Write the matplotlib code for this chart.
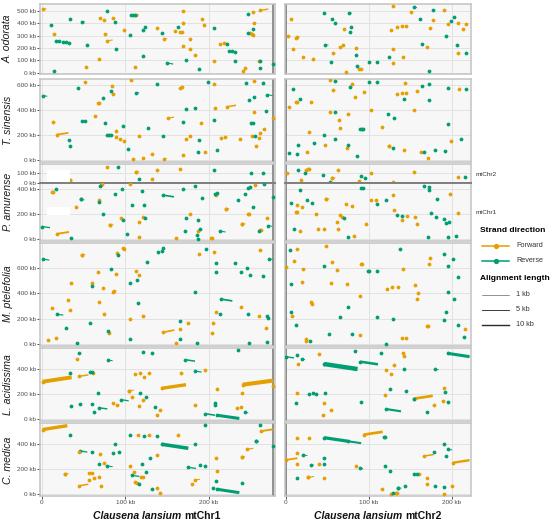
import matplotlib
matplotlib.use('Agg')
import matplotlib.pyplot as plt
from matplotlib.patches import Rectangle
from matplotlib.lines import Line2D

plt.rcParams['font.family'] = ['Liberation Sans', 'DejaVu Sans']

# ---- data (kb). fwd/rev = alignment start points, seg = (x0, y0, x1, y1)
odo1_fwd = [(14.8,313),(53,46),(68,108),(69.6,446),(74,427),(75.6,311),(84.8,443),(98.4,349),(111.6,46),(138.4,362),
            (159,338),(165.6,327),(168,330),(169,497),(169,405),(169.6,216),(177.6,276),(178,192),(183,146),(192,432),
            (194.4,386),(206.8,92),(214,232),(218.4,238),(250,324),(252,313),(253.6,305),(254.4,403),(252.8,489),
            (260,97),(241.6,11),(243,38)]
odo1_rev = [(10.4,386),(14.8,16),(17,257),(20,254),(25,251),(29,249),(32,240),(34,435),(54,227),(77.6,500),(87.6,413),
            (88.8,192),(106,308),(106.8,467),(108.8,467),(111.6,467),(121.6,349),(123,367),(121.6,135),(144.4,319),
            (163,367),(172.8,100),(188,32),(206.8,362),(221.6,230),(224.4,178),(228.4,173),(231.6,170),(231.6,92),
            (246.8,473),(246.8,324),(253.6,357),(261.6,97),(262,41),(277.6,73)]
odo1_seg = [(0.8,513,5.6,517),(47.6,413,51.6,409),(78.4,259,84.8,265),(112.8,466,116,469),(146.8,273,150.4,276),
            (150.4,78,157.6,70),(262,506,271.6,515)]

odo2_fwd = [(129.4,538),(151.6,495),(191,508),(6.5,435),(177.8,430),(207.7,405),(217,397),(196,395),(213.7,351),
            (134.3,370),(140,376),(145.6,378),(126.6,343),(70.6,354),(173.8,359),(3.2,295),(12.5,284),(14,286),
            (69.4,227),(65,205),(84.3,197),(171,205),(8.9,189),(129,189),(56.5,157),(208,159),(20.6,127),(33.5,108),
            (141,127),(130,76),(88,32),(90.7,30),(73,8)]
odo2_rev = [(46.8,481),(177.4,508),(55.6,435),(59.7,403),(161.7,438),(203,449),(198.8,422),(79,368),(77,330),
            (193,295),(164.5,230),(206.9,227),(84.3,143),(217.7,162),(125,124),(55.2,89),(101,86),(110,86),(86,51),
            (172.6,16)]
odo2_seg = [(154.4,532,158.4,528),(75.8,486,79.8,482),(48,227,51.6,223)]

sin1_fwd = [(51.6,618),(13.6,300),(63.2,347),(67.2,456),(68.8,458),(84.4,592),(85.6,523),(88.4,233),(88.8,186),
            (93.6,164),(98.4,151),(106.8,634),(116,194),(108.8,5),(121.6,13),(132.4,50),(165.6,576),(168,578),(169,40),
            (173,170),(177,188),(190.8,297),(195.6,64),(206.8,602),(208,416),(214.4,175),(219.6,180),(237.6,164),
            (254.8,626),(254.4,379),(251.6,191),(260.8,172),(262,218),(266,249),(256.8,111),(277.6,334)]
sin1_rev = [(43,576),(32.8,156),(34,109),(48,310),(51.6,308),(73.6,491),(82.8,549),(75.6,294),(78.4,202),(80.4,199),
            (82.4,196),(97.6,268),(103.6,85),(126.8,257),(138.4,605),(145.6,188),(169.6,300),(172.4,406),(183.2,414),
            (188.8,159),(186.8,64),(198.8,621),(206,316),(210.4,80),(245.2,610),(250.4,297),(253.6,297),(248.8,475),
            (254.4,499),(264.8,613),(255.2,188),(268.4,390)]
sin1_seg = [(0.8,514,6.4,508),(17.6,202,31.6,216),(112.8,538,116.8,534),(146.8,11,150,14),(150.8,334,158.4,342),
            (221.6,424,232.8,436),(270.4,520,276.8,514)]

sin2_fwd = [(54,634),(144.4,615),(56.5,557),(79.4,602),(94.8,544),(208.5,562),(134,523),(140,533),(145,533),
            (158.9,552),(12.5,464),(14,464),(31,459),(83.9,501),(4.4,422),(54,385),(75.4,369),(102.4,398),(154.4,400),
            (64.5,321),(65,255),(116.5,263),(27.8,225),(198.8,149),(47.6,119),(73.4,93),(124,114),(125,114),
            (142.3,80),(163.7,66),(26.2,66),(171.8,13)]
sin2_rev = [(60,631),(101,621),(110,621),(173,607),(164.5,589),(8.9,565),(77,578),(195.6,576),(217.7,562),(17,485),
            (143,488),(173,480),(60,382),(123,369),(130.6,332),(90,247),(92,247),(93.5,247),(196,289),(46.8,196),
            (58.9,167),(211.3,164),(33.9,133),(14.5,119),(74.6,119),(129,95),(180.6,82),(166.5,64),(192.7,74),
            (4.4,56),(13.3,48),(85.5,34)]
sin2_seg = []

amu2c1_fwd = [(77.6,155),(112.8,106),(138.4,132),(165.6,135),(131.6,39),(33.6,26),(33,22)]
amu2c1_rev = [(91.2,161),(206.8,129),(250.8,94),(265.6,94),(116.4,32)]
amu2c1_seg = [(112.8,106,116.8,110)]

amu2c2_fwd = [(1.2,97),(24.6,132),(26.6,139),(28.6,139),(18.5,23),(63,126),(56,45),(102.4,100),(89,13),(154.4,103),
              (129,3),(208,55)]
amu2c2_rev = [(14.5,129),(23.8,100),(44.4,81),(53.6,6),(90.7,71),(96,45),(216.5,58)]
amu2c2_seg = [(56,45,60,49)]

amu1c1_fwd = [(12.4,373),(13.6,376),(70.4,429),(71.6,437),(68,312),(41,253),(106,440),(177.6,203),(81.6,112),(95,165),
              (116.8,133),(120.8,176),(116.4,19),(160.8,11),(187.6,69),(202.4,11),(204,9),(208.4,352),(221,240),
              (247.2,197),(248.8,203),(256,427),(240.4,120),(269.6,165),(262.8,77),(261.6,72)]
amu1c1_rev = [(16.8,400),(69.6,421),(47,315),(68,293),(88,355),(96,400),(119.6,381),(108.4,269),(122,275),(169,400),
              (183,424),(192.4,325),(172.8,168),(187.6,152),(73.6,200),(97.6,155),(124,171),(34.4,13),(101.6,40),
              (172,67),(186.4,35),(187,5),(189.6,83),(207.6,360),(210.4,365),(234.8,312),(244,360),(246.8,408),
              (250,413),(253.6,259),(266.8,435),(260.4,67),(277.6,336)]
amu1c1_seg = [(47,315,51,311),(145.6,349,158.4,336),(81.6,112,85.6,116),(0.4,101,9.6,92),(17.6,43,32.4,58),
              (214,64,220.4,58),(221,240,224.6,244),(240.4,120,244,124),(270.8,109,276.4,103)]

amu1c2_fwd = [(14.1,272),(20.2,256),(12.5,213),(13.3,216),(36.3,200),(48.8,317),(73,283),(80.2,261),(65.5,192),
              (67.5,179),(61.3,136),(63,83),(17.7,67),(39.5,83),(46.8,83),(82.3,29),(96.8,120),(102.4,309),(109.3,309),
              (129,349),(130.2,235),(140.7,155),(146.4,181),(156,176),(158.9,120),(198.4,357),(207.7,205)]
amu1c2_rev = [(16.9,392),(6.9,285),(25.8,312),(31.5,291),(69.8,171),(9.7,80),(75,19),(91,408),(93,403),(110,280),
              (121,309),(134.3,192),(140,184),(167.3,424),(173,413),(173,389),(182.3,315),(175.4,211),(181.5,176),
              (191,157),(193.5,128),(196.4,136),(172.2,19),(195.6,19),(205,27)]
amu1c2_seg = [(48.8,317,52.8,321)]

pte1_fwd = [(48,707),(89.6,723),(97.2,758),(98.4,753),(188,713),(206.8,731),(261.6,744),(67.6,567),(88.8,556),
            (112.8,580),(116.8,546),(34.8,487),(60.4,485),(73.6,445),(85.6,408),(86.8,418),(31.2,347),(68.8,334),
            (12,286),(34,265),(238.8,291),(208.8,254),(74.8,238),(121.6,223),(105.6,201),(260.8,225),(175.6,162),
            (205.6,162),(80.8,85),(165.6,117),(268.4,125),(204,90),(7.6,27),(16.8,48),(160.8,8)]
pte1_rev = [(91.6,705),(138.8,731),(144.4,739),(145.6,763),(196.4,750),(83.2,596),(113.6,509),(105.6,487),
            (125.6,646),(208.8,644),(208.8,567),(232,638),(246,604),(238.4,570),(249.6,543),(265.6,538),(60,458),
            (115.6,323),(183.6,411),(214,241),(246.8,241),(269.6,225),(271,209),(166,180),(57.6,162),(29.2,127),
            (79.2,106),(105.6,37),(165.6,42),(41.6,8),(186.4,8),(248.8,10),(269.6,12)]
pte1_seg = [(0.8,673,8.8,665),(48,707,52,711),(272,675,277,670),(214.8,355,228.4,341),(17.6,236,25.6,228),
            (145.6,92,158.8,110)]

pte2_fwd = [(48.8,773),(13.3,752),(174,683),(10.5,654),(0.4,612),(55.6,649),(20.6,593),(61.3,583),(90.7,630),
            (92.5,632),(141,593),(173.4,636),(20.2,493),(55.2,487),(73.4,479),(121.8,432),(128,450),(135,448),
            (156.5,464),(159.3,405),(158.9,360),(89.1,381),(31,334),(32.3,315),(7.3,220),(170.6,140),(171.8,143),
            (215.7,122),(90,69),(140,48),(145.6,48),(24.6,37),(24.2,23)]
pte2_rev = [(4.8,742),(137.9,750),(191,713),(201.6,670),(46.8,617),(99.2,580),(101,578),(110,575),(195.6,620),
            (208,527),(6.9,472),(196,413),(202.4,358),(75,289),(6,254),(193,254),(65.3,215),(110,212),(129.4,201),
            (191,191),(12.1,146),(208,148),(52,79),(79.4,77),(215.3,56),(29.8,20),(121.4,2)]
pte2_seg = []

aci1_fwd = [(41.6,477),(111.6,357),(117.6,362),(128.8,363),(122.4,336),(61.6,363),(166.8,363),(195.2,387),(104.8,224),
            (120.8,149),(108.4,171),(85.2,123),(116,101),(138.4,27),(142,67),(184,107),(210.4,235),(240.4,208),
            (234.4,85),(238.4,91),(277.6,259)]
aci1_rev = [(44.8,528),(120.8,531),(132,523),(234.8,549),(33.6,363),(57.6,373),(59.6,371),(118,203),(124.8,176),
            (67.2,203),(45.2,120),(34.8,99),(60.4,115),(62.8,56),(136,91),(207.6,128),(207.6,109)]
aci1_seg = [(78.8,469,84.8,463),(172,472,183.6,460),(0.8,296,35.6,331),(44.8,339,55.6,350),(183.6,381,191.6,373),
            (143.6,243,172.8,272),(104.8,224,110.4,229),(95.2,152,104,143),(89.6,107,93,110),(68,88,78.4,78),
            (195.6,40,207.6,28),(210.4,27,236.8,2),(243.6,51,247.6,47),(240.8,272,277.6,305)]

aci2_fwd = [(14.5,435),(40.3,517),(142.3,501),(141.5,523),(130.2,429),(120.6,389),(126.6,355),(14.1,203),(119.8,189),
            (190.7,245),(46.8,125),(190,144),(179.4,112),(55.2,69),(44.4,29)]
aci2_rev = [(13.3,507),(83,539),(114.5,525),(143,397),(125.8,235),(145.6,224),(27.8,195),(32.7,203),(36.3,195),
            (47.2,203),(154.4,160),(192,216),(12.1,128),(90.7,133),(195.6,131),(170,56)]
aci2_seg = [(0,496,10,486),(19.4,477,23.4,473),(46.4,437,86.7,397),(90,456,111.3,435),(180.6,395,184.6,391),
            (195.2,523,221.8,496),(154.4,160,177.4,183),(121.4,77,139,59)]

med1_fwd = [(44.8,336),(69.6,323),(74.8,251),(28,165),(56.8,171),(60,173),(62.8,128),(56.8,117),(68,136),(71.2,67),
            (115.6,472),(128.4,472),(163.6,475),(105.6,227),(110.8,181),(118.8,136),(121.6,136),(112,96),(113.6,94),
            (137.6,317),(138.4,48),(141.6,8),(179.6,83),(208.4,293),(210.4,189),(239.6,299)]
med1_rev = [(33.6,472),(60.4,336),(88,400),(84.8,331),(92,341),(68,240),(105.2,475),(122,467),(138.4,469),(183.6,400),
            (120,240),(124.8,179),(116.4,83),(129.6,288),(132.4,40),(190,232),(195.6,227),(196,552),(208.4,107),
            (205.6,48),(240.4,88),(256.4,427),(261.2,552),(277.6,387)]
med1_seg = [(0.8,518,30.4,549),(45.2,347,54.4,338),(78.4,227,84.8,221),(28,165,32,169),(44.8,69,55.6,80),
            (144,400,175.6,368),(108,152,116.8,143),(175.6,216,184.8,207),(183.6,115,189.6,121),(210.4,40,236.8,13),
            (246,360,253.6,368),(239.6,299,243.6,303),(256.4,427,260.4,423),(262.4,505,277.6,520)]

med2_fwd = [(14.1,453),(27.8,453),(14.1,333),(14.1,240),(40,245),(84.7,227),(27.4,136),(46,128),(116,40),(127,3),
            (133,8),(134.7,8),(160.9,160),(170.6,128),(170.2,83),(190.7,0),(200.8,69)]
med2_rev = [(118,461),(119.6,460),(46,293),(46,245),(120,224),(125.8,189),(135.5,53),(143.5,64),(130,8),(154.4,160),
            (158.5,160),(179.4,336),(190.7,400),(193,307),(179.8,64),(190.7,61),(14.1,133)]
med2_seg = [(46.4,453,74.6,425),(74.6,425,91,409),(94,477,117,500),(0,275,14.1,289),(20.6,315,26.2,310),
            (30.2,237,34.2,233),(89.5,208,93.5,204),(27.4,136,34.2,142),(135.5,53,139.5,49),(167.3,307,178.6,318),
            (195.6,360,200.8,355),(202,253,221.8,273)]

species = ['A. odorata', 'T. sinensis', 'P. amurense', 'M. ptelefolia', 'L. acidissima', 'C. medica']
x_titles = ['mtChr1', 'mtChr2']
len_legend = [1, 5, 10]

FWD = '#E69F00'
REV = '#009E73'

W, H = 550, 523
fig = plt.figure(figsize=(W / 100, H / 100), dpi=100)


def px_axes(l, t, r, b):
    return fig.add_axes([l / W, 1 - b / H, (r - l) / W, (b - t) / H])


def lw_of(length):
    return 0.72 * (0.4 + 0.1 * length)


# columns: (left px, right px, xlim, vline)
cols = [(40, 274.5, (-2.4, 279), 277.7), (284.7, 471, (-1.2, 223.5), 0)]
# rows: (top px, bottom px, ylim, yticks, data per column)
rows = [
    (4.3, 74, (-10.5, 554), [0, 100, 200, 300, 400, 500], [(odo1_fwd, odo1_rev, odo1_seg), (odo2_fwd, odo2_rev, odo2_seg)]),
    (78.7, 161.7, (-13.5, 648), [0, 200, 400, 600], [(sin1_fwd, sin1_rev, sin1_seg), (sin2_fwd, sin2_rev, sin2_seg)]),
    (164, 183.3, (-8, 190), [0, 100], [(amu2c1_fwd, amu2c1_rev, amu2c1_seg), (amu2c2_fwd, amu2c2_rev, amu2c2_seg)]),
    (183.3, 240.7, (-11, 443), [0, 200, 400], [(amu1c1_fwd, amu1c1_rev, amu1c1_seg), (amu1c2_fwd, amu1c2_rev, amu1c2_seg)]),
    (243.3, 345.5, (-12.7, 798), [0, 200, 400, 600], [(pte1_fwd, pte1_rev, pte1_seg), (pte2_fwd, pte2_rev, pte2_seg)]),
    (348.3, 420.7, (-16, 563), [0, 200, 400], [(aci1_fwd, aci1_rev, aci1_seg), (aci2_fwd, aci2_rev, aci2_seg)]),
    (423.3, 496, (-13.6, 568), [0, 200, 400], [(med1_fwd, med1_rev, med1_seg), (med2_fwd, med2_rev, med2_seg)]),
]

DOT = 7.5
for ri, (top, bot, ylim, yticks, data) in enumerate(rows):
    for ci, (l, r, xlim, vl) in enumerate(cols):
        ax = px_axes(l, top, r, bot)
        fwd, rev, seg = data[ci]
        ax.set_facecolor('#F7F7F7')
        ax.set_xlim(xlim)
        ax.set_ylim(ylim)
        ax.set_xticks([0, 100, 200])
        ax.set_yticks(yticks)
        ax.grid(color='#E2E2E2', lw=0.7)
        ax.set_axisbelow(True)
        for sp in ax.spines.values():
            sp.set_color('#C4C4C4')
            sp.set_linewidth(1.1)
        if ri == 2:
            ax.spines['bottom'].set_color('#7F7F7F')
            ax.spines['bottom'].set_linewidth(1.4)
        if ri == 3:
            ax.spines['top'].set_color('#7F7F7F')
            ax.spines['top'].set_linewidth(1.4)
        ax.axvline(vl, color='#7F7F7F', lw=1.2, zorder=1.5)
        for x0, y0, x1, y1 in seg:
            c = FWD if y1 > y0 else REV
            ax.plot([x0, x1], [y0, y1], color=c, lw=lw_of(abs(x1 - x0)), solid_capstyle='butt', zorder=2)
            ax.scatter([x0], [y0], s=DOT, color=c, lw=0, zorder=3)
        if fwd:
            ax.scatter([p[0] for p in fwd], [p[1] for p in fwd], s=DOT, color=FWD, lw=0, zorder=3)
        if rev:
            ax.scatter([p[0] for p in rev], [p[1] for p in rev], s=DOT, color=REV, lw=0, zorder=3)
        ax.tick_params(length=2, width=0.6, color='#333333', labelsize=4.6, labelcolor='#4D4D4D', pad=1)
        if ci == 0:
            ax.set_yticklabels([f'{v} kb' for v in yticks])
        else:
            ax.tick_params(axis='y', length=0, labelleft=False)
        if ri == len(rows) - 1:
            ax.set_xticklabels(['0', '100 kb', '200 kb'])
        else:
            ax.tick_params(axis='x', length=0, labelbottom=False)

# white masks in P. amurense (present in the original figure)
for (l, t, r, b) in [(47, 170, 70, 181.7), (47, 206.7, 70, 215)]:
    fig.patches.append(Rectangle((l / W, 1 - b / H), (r - l) / W, (b - t) / H, transform=fig.transFigure,
                                 facecolor='white', edgecolor='none', zorder=10))

# species strip labels
centers = [39, 120, 202, 294, 384.5, 460]
for sp, yc in zip(species, centers):
    fig.text(8 / W, 1 - yc / H, sp, rotation=90, style='italic', fontsize=7.6, color='#1A1A1A', ha='center', va='center')

fig.text(476 / W, 1 - 174.7 / H, 'mtChr2', fontsize=4.6, color='#333333', ha='left', va='center')
fig.text(476 / W, 1 - 212.7 / H, 'mtChr1', fontsize=4.6, color='#333333', ha='left', va='center')

# x titles: italic bold genus/species + bold chromosome
renderer = fig.canvas.get_renderer()
for xc, chrom in zip([157, 378], x_titles):
    t1 = fig.text(0, 0, 'Clausena lansium ', fontsize=7.5, fontweight='bold', style='italic', color='#111111')
    t2 = fig.text(0, 0, chrom, fontsize=7.5, fontweight='bold', color='#111111')
    w1 = t1.get_window_extent(renderer).width
    w2 = t2.get_window_extent(renderer).width
    x_start = xc - (w1 + w2) / 2
    t1.set_position((x_start / W, 1 - 515.7 / H))
    t2.set_position(((x_start + w1) / W, 1 - 515.7 / H))
    t1.set_va('center')
    t2.set_va('center')

# legend
fig.text(480 / W, 1 - 230 / H, 'Strand direction', fontsize=6, fontweight='bold', ha='left', va='center')
for yy, lab, c in [(245.7, 'Forward', FWD), (260.7, 'Reverse', REV)]:
    fig.lines.append(Line2D([481.7 / W, 509.3 / W], [1 - yy / H] * 2, transform=fig.transFigure, color=c, lw=1.1))
    fig.lines.append(Line2D([495.5 / W], [1 - yy / H], transform=fig.transFigure, color=c, marker='o', ms=2.8, lw=0))
    fig.text(516 / W, 1 - yy / H, lab, fontsize=5.2, color='#333333', ha='left', va='center')
fig.text(480 / W, 1 - 279 / H, 'Alignment length', fontsize=6, fontweight='bold', ha='left', va='center')
for yy, ln in zip([294.7, 309.7, 324.7], len_legend):
    fig.lines.append(Line2D([481.7 / W, 509.3 / W], [1 - yy / H] * 2, transform=fig.transFigure, color='#2B2B2B',
                            lw=lw_of(ln)))
    fig.text(516 / W, 1 - yy / H, f'{ln} kb', fontsize=5.2, color='#333333', ha='left', va='center')

fig.savefig('out.png', dpi=100)
